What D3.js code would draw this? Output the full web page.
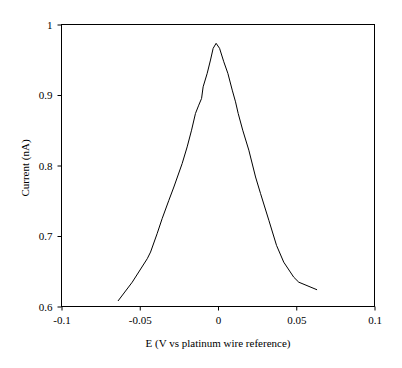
<!DOCTYPE html>
<html>
<head>
<meta charset="utf-8">
<script src="https://cdn.jsdelivr.net/npm/d3@7"></script>
<style>
  body { margin: 0; background: #fff; }
  svg text { font-family: "Liberation Serif", "Times New Roman", serif; font-size: 11px; fill: #000; }
</style>
</head>
<body>
<div id="root"></div>
<script>
"use strict";

// potential (V) and current (nA)
const potential = [
  -0.0639, -0.0548, -0.0452, -0.0431, -0.0389, -0.0357, -0.0314, -0.0282,
  -0.0229, -0.0197, -0.0169, -0.0144, -0.0123, -0.0105, -0.0095, -0.0069,
  -0.0048, -0.0031, -0.0012, 0.0010, 0.0037, 0.0063, 0.0091, 0.0112,
  0.0129, 0.0158, 0.0197, 0.0240, 0.0272, 0.0325, 0.0374, 0.0420,
  0.0484, 0.0516, 0.0633,
];
const current = [
  0.6078, 0.6345, 0.6678, 0.6772, 0.7033, 0.7246, 0.7506, 0.7695,
  0.8028, 0.8264, 0.8501, 0.8738, 0.8856, 0.8951, 0.9116, 0.9307,
  0.9496, 0.9662, 0.9733, 0.9662, 0.9471, 0.9307, 0.9069, 0.8903,
  0.8738, 0.8501, 0.8217, 0.7837, 0.7601, 0.7222, 0.6867, 0.6629,
  0.6416, 0.6345, 0.6237,
];
const xTicks = [-0.1, -0.05, 0, 0.05, 0.1];
const yTicks = [0.6, 0.7, 0.8, 0.9, 1];

const width = 402;
const height = 368;
const margin = { left: 61.5, right: 374.5, top: 24.5, bottom: 306.5 };

const x = d3.scaleLinear().domain([-0.1, 0.1]).range([margin.left, margin.right]);
const y = d3.scaleLinear().domain([0.6, 1]).range([margin.bottom, margin.top]);

const svg = d3.select("#root")
  .append("svg")
  .attr("width", width)
  .attr("height", height);

// plot frame
svg.append("rect")
  .attr("x", margin.left)
  .attr("y", margin.top)
  .attr("width", margin.right - margin.left)
  .attr("height", margin.bottom - margin.top)
  .attr("fill", "none")
  .attr("stroke", "#000")
  .attr("stroke-width", 1);

const xAxis = svg.append("g")
  .attr("transform", `translate(0, ${margin.bottom})`)
  .call(d3.axisBottom(x).tickValues(xTicks).tickSize(4).tickPadding(6)
    .tickFormat((d) => String(d)));

const yAxis = svg.append("g")
  .attr("transform", `translate(${margin.left}, 0)`)
  .call(d3.axisLeft(y).tickValues(yTicks).tickSize(4).tickPadding(5)
    .tickFormat((d) => String(d)));

[xAxis, yAxis].forEach((g) => {
  g.select(".domain").remove();
  g.selectAll("line").attr("stroke", "#000");
  g.selectAll("text").attr("font-family", null).attr("font-size", null);
});

const line = d3.line()
  .x((d, i) => x(potential[i]))
  .y((d, i) => y(current[i]));

svg.append("path")
  .datum(potential)
  .attr("d", line)
  .attr("fill", "none")
  .attr("stroke", "#000")
  .attr("stroke-width", 1);

svg.append("text")
  .attr("x", (margin.left + margin.right) / 2)
  .attr("y", 347)
  .attr("text-anchor", "middle")
  .text("E (V vs platinum wire reference)");

svg.append("text")
  .attr("transform", "translate(29, 168) rotate(-90)")
  .attr("text-anchor", "middle")
  .text("Current (nA)");
</script>
</body>
</html>
